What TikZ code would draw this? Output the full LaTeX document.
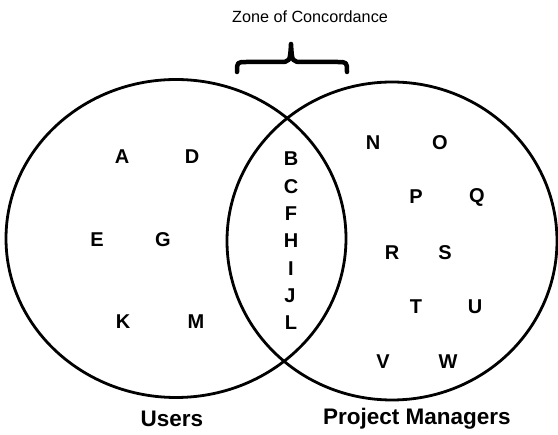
\documentclass[tikz,border=0pt]{standalone}
\usepackage{fontspec}
\setmainfont{Liberation Sans}
\usetikzlibrary{shapes.geometric}
\begin{document}
\begin{tikzpicture}[x=1pt,y=-1pt,
  setcircle/.style={ellipse,draw,line width=2.8pt,inner sep=0pt},
  item/.style={font=\fontsize{20}{20}\selectfont\bfseries,inner sep=0pt},
  grouplabel/.style={font=\fontsize{22.5}{22.5}\selectfont\bfseries,inner sep=0pt},
  zonelabel/.style={font=\fontsize{16.2}{16}\selectfont,inner sep=0pt},
  bracestroke/.style={line width=4.5pt,line cap=round,line join=round}]
\useasboundingbox (0,0) rectangle (558,435);
\node[setcircle,minimum width=340pt,minimum height=318pt] (users) at (176,238.5) {};
\node[setcircle,minimum width=330pt,minimum height=318pt] (pm) at (392,241) {};
% brace
\coordinate (bl) at (237,72);
\coordinate (br) at (347,72);
\coordinate (bt) at (291,44);
\draw[bracestroke] (bl) .. controls (237,62) .. (247,62) -- (279,62)
  .. controls (290,62) .. (bt) .. controls (292,62) .. (303,62) -- (337,62)
  .. controls (347,62) .. (br);
\node[zonelabel] (zone) at (310,17) {Zone of Concordance};
% users only
\node[item] (A) at (122,157) {A};
\node[item] (D) at (192,157) {D};
\node[item] (E) at (97,240) {E};
\node[item] (G) at (163,240) {G};
\node[item] (K) at (123,322) {K};
\node[item] (M) at (196,322) {M};
% intersection
\node[item] (B) at (291,159) {B};
\node[item] (C) at (291,186.5) {C};
\node[item] (F) at (291,214) {F};
\node[item] (H) at (291,241) {H};
\node[item] (I) at (291,268.5) {I};
\node[item] (J) at (290,296) {J};
\node[item] (L) at (291,323) {L};
% project managers only
\node[item] (N) at (373,143) {N};
\node[item] (O) at (440,143) {O};
\node[item] (P) at (416,197) {P};
\node[item] (Q) at (477,197) {Q};
\node[item] (R) at (392,253) {R};
\node[item] (S) at (445,253) {S};
\node[item] (T) at (416,307) {T};
\node[item] (U) at (475,307) {U};
\node[item] (V) at (383,362) {V};
\node[item] (W) at (448,362) {W};
% labels
\node[grouplabel] (ulabel) at (172,419) {Users};
\node[grouplabel] (pmlabel) at (417,419) {Project Managers};
\end{tikzpicture}
\end{document}
